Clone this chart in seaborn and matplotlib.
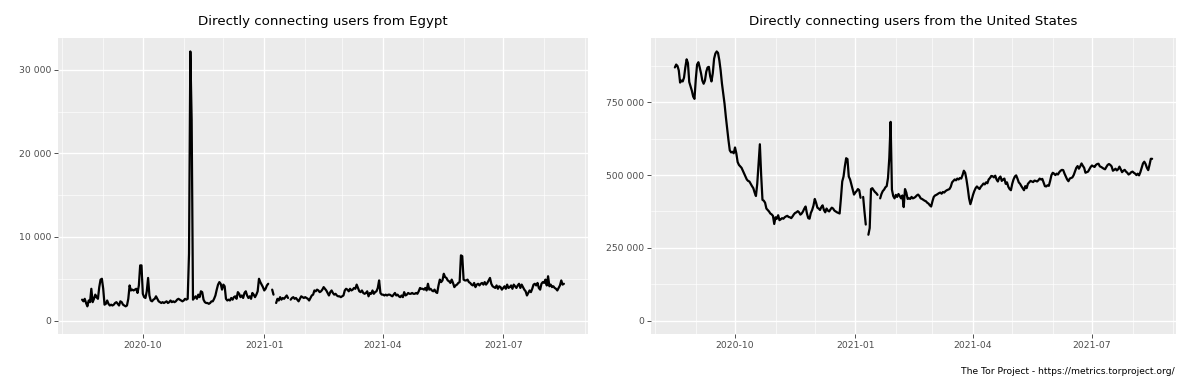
import numpy as np
import pandas as pd
import matplotlib
matplotlib.use("Agg")
import matplotlib.pyplot as plt
import matplotlib.dates as mdates
from matplotlib.ticker import FuncFormatter, MultipleLocator
import seaborn as sns

nan = np.nan

# daily values, 2020-08-16 .. 2021-08-16 (nan = no data that day)
start_date = "2020-08-16"

egypt_users = [
    # Aug
    2500, 2300, 2600, 2100, 1700, 2400, 2200, 3800, 2200, 2600, 3100, 2800, 2600, 4000, 4900, 5000,
    # Sep
    3800, 1900, 2000, 2400, 2000, 1800, 1900, 1800, 1900, 2100,
    2200, 2000, 1800, 2300, 2200, 1900, 1800, 1700, 1800, 2600,
    4200, 3600, 3700, 3600, 3700, 3800, 3300, 4200, 6600, 6600,
    # Oct
    3200, 2800, 2700, 3500, 5100, 3000, 2400, 2300, 2500, 2600,
    2900, 2600, 2300, 2200, 2100, 2200, 2100, 2200, 2300, 2100,
    2200, 2400, 2200, 2300, 2200, 2300, 2500, 2600, 2500, 2400,
    2300,
    # Nov
    2400, 2600, 2500, 2600, 8000, 32200, 24000, 2500, 2700, 2900,
    2600, 3100, 2800, 3500, 3400, 2500, 2200, 2100, 2100, 2000,
    2100, 2300, 2300, 2600, 3000, 3700, 4300, 4600, 4400, 3700,
    # Dec
    4300, 4100, 2600, 2400, 2500, 2400, 2700, 2500, 2800, 2900,
    2600, 3400, 3200, 2800, 3000, 2700, 3300, 3500, 3000, 2700,
    2900, 2600, 3300, 3100, 2800, 3100, 3500, 5000, 4600, 4300,
    4000,
    # Jan
    3600, 3800, 4200, 4400, nan, nan, 3700, 3100, nan, 2100,
    2600, 2400, 2800, 2500, 2700, 2600, 2800, 3000, 2700, nan,
    2500, 2700, 2800, 2600, 2700, 2500, 2300, 2600, 2900, 2800,
    2700,
    # Feb
    2800, 2700, 2600, 2400, 2700, 3000, 3100, 3600, 3500, 3700,
    3600, 3400, 3500, 3700, 4000, 3800, 3600, 3300, 3000, 3400,
    3600, 3300, 3100, 3200, 3000, 2900, 2900, 2800,
    # Mar
    2900, 3000, 3600, 3800, 3700, 3500, 3800, 3600, 3700, 3900,
    3800, 4300, 3900, 3500, 3400, 3600, 3300, 3200, 3300, 3500,
    2900, 3300, 3200, 3600, 3200, 3400, 3500, 3900, 4800, 3300,
    3100,
    # Apr
    3100, 3000, 3100, 3000, 3100, 3100, 3000, 2900, 3100, 3300,
    3000, 3100, 2900, 2800, 3000, 2800, 3400, 3000, 3100, 3300,
    3200, 3200, 3300, 3200, 3200, 3300, 3200, 3500, 3900, 3800,
    # May
    3800, 3700, 3900, 3600, 4400, 3700, 3800, 3600, 3500, 3700,
    3400, 3300, 4200, 4900, 4600, 4800, 5600, 5200, 5100, 4800,
    4700, 4500, 4900, 4500, 4000, 4200, 4300, 4500, 4600, 7800,
    7700,
    # Jun
    4900, 4800, 4800, 4900, 4600, 4500, 4300, 4200, 4500, 4000,
    4300, 4400, 4200, 4400, 4500, 4300, 4600, 4300, 4500, 4800,
    5100, 4400, 4100, 4000, 3900, 4200, 3800, 4100, 4000, 3700,
    # Jul
    3900, 4100, 3800, 4300, 3900, 4000, 4200, 3800, 4300, 4100,
    3900, 4200, 4400, 3900, 4300, 4000, 3700, 3500, 3000, 3300,
    3600, 3400, 3800, 4300, 4400, 4200, 4500, 3900, 3700, 4400,
    4600,
    # Aug
    4500, 4900, 4200, 5300, 4100, 4300, 4000, 4100, 3900, 3800, 3600, 3900, 4200, 4800, 4300, 4400,
]

# United States, in thousands of users
us_users_k = [
    # Aug
    870, 880, 875, 860, 818, 825, 822, 835, 870, 898, 885, 820, 805, 790, 770, 762,
    # Sep
    830, 880, 888, 870, 850, 825, 814, 825, 855, 870,
    872, 840, 822, 850, 900, 918, 925, 920, 895, 860,
    815, 780, 745, 700, 660, 620, 585, 578, 580, 575,
    # Oct
    595, 575, 545, 535, 530, 525, 515, 505, 495, 485,
    480, 478, 470, 462, 455, 440, 428, 470, 540, 606,
    500, 415, 412, 405, 385, 380, 375, 368, 365, 360,
    332,
    # Nov
    355, 350, 362, 345, 348, 352, 350, 355, 358, 360,
    356, 355, 352, 358, 365, 370, 372, 376, 372, 364,
    368, 375, 385, 392, 368, 352, 350, 370, 380, 395,
    # Dec
    418, 405, 388, 385, 380, 390, 396, 380, 372, 385,
    378, 375, 382, 388, 385, 378, 375, 372, 370, 368,
    420, 478, 495, 530, 558, 555, 495, 485, 468, 450,
    433,
    # Jan
    440, 445, 452, 448, 422, nan, 425, 375, 330, nan,
    295, 318, 452, 455, 448, 442, 438, 432, nan, 420,
    435, 445, 450, 458, 462, 490, 560, 683, 450, 428,
    420,
    # Feb
    432, 425, 435, 428, 420, 430, 390, 452, 440, 418,
    420, 418, 425, 420, 422, 425, 430, 433, 428, 420,
    418, 415, 412, 410, 405, 402, 396, 392,
    # Mar
    410, 425, 430, 432, 435, 438, 440, 436, 442, 440,
    445, 448, 450, 452, 460, 475, 480, 485, 482, 488,
    485, 490, 488, 500, 515, 508, 485, 455, 420, 400,
    415,
    # Apr
    432, 445, 455, 461, 456, 452, 460, 465, 471, 468,
    475, 472, 485, 490, 497, 496, 492, 498, 485, 478,
    490, 495, 480, 485, 488, 470, 475, 460, 452, 448,
    # May
    470, 485, 495, 499, 488, 475, 470, 462, 455, 448,
    462, 455, 470, 475, 480, 478, 476, 481, 480, 478,
    482, 488, 485, 487, 475, 462, 461, 465, 463, 480,
    500,
    # Jun
    508, 505, 500, 505, 502, 510, 515, 518, 517, 505,
    495, 485, 479, 488, 490, 492, 500, 512, 525, 531,
    522, 530, 540, 532, 525, 508, 510, 512, 520, 528,
    # Jul
    533, 530, 528, 535, 538, 539, 530, 528, 525, 522,
    520, 528, 535, 538, 535, 530, 515, 518, 522, 516,
    520, 529, 520, 510, 515, 518, 512, 508, 502, 505,
    510,
    # Aug
    512, 508, 505, 500, 505, 499, 510, 525, 540, 546, 538, 525, 517, 535, 556, 556,
]

titles = ["Directly connecting users from Egypt",
          "Directly connecting users from the United States"]
caption = "The Tor Project - https://metrics.torproject.org/"

sns.set_theme(style="darkgrid", rc={
    "axes.facecolor": "#EBEBEB",
    "grid.color": "white",
    "axes.edgecolor": "#EBEBEB",
})
plt.rcParams['font.family'] = ['DejaVu Sans']


def to_frame(values, scale=1):
    df = pd.DataFrame({
        'date': pd.date_range(start_date, periods=len(values), freq='D'),
        'users': np.array(values, dtype=float) * scale,
    })
    # break the line where a day is missing
    df['seg'] = df['users'].isna().cumsum()
    return df.dropna()


def space_thousands(v, pos):
    return f"{v:,.0f}".replace(",", " ")


fig = plt.figure(figsize=(11.83, 3.79), dpi=100)
ax1 = fig.add_axes([58 / 1183, 45 / 379, 530 / 1183, 296 / 379])
ax2 = fig.add_axes([651 / 1183, 45 / 379, 525 / 1183, 296 / 379])

frames = [to_frame(egypt_users), to_frame(us_users_k, 1000)]
ysteps = [(10000, 5000), (250000, 125000)]

for ax, df, title, (maj, mnr) in zip([ax1, ax2], frames, titles, ysteps):
    sns.lineplot(data=df, x='date', y='users', units='seg', estimator=None,
                 color='black', lw=1.6, ax=ax)
    x0, x1 = df['date'].min(), df['date'].max()
    pad = (x1 - x0) * 0.05
    ax.set_xlim(x0 - pad, x1 + pad)
    hi = df['users'].max()
    ax.set_ylim(-0.05 * hi, 1.05 * hi)

    ax.xaxis.set_major_locator(mdates.MonthLocator(bymonth=[1, 4, 7, 10]))
    ax.xaxis.set_major_formatter(mdates.DateFormatter('%Y-%m'))
    ax.xaxis.set_minor_locator(mdates.MonthLocator())
    ax.yaxis.set_major_locator(MultipleLocator(maj))
    ax.yaxis.set_minor_locator(MultipleLocator(mnr))
    ax.yaxis.set_major_formatter(FuncFormatter(space_thousands))

    ax.grid(which='major', color='white', lw=1.0)
    ax.grid(which='minor', color='white', lw=0.45)
    ax.tick_params(which='major', bottom=True, left=True, length=2.7, width=0.6,
                   color='#333333', labelcolor='#4D4D4D', labelsize=6.7, pad=2)
    ax.tick_params(which='minor', length=0)
    for s in ax.spines.values():
        s.set_visible(False)
    ax.set_xlabel('')
    ax.set_ylabel('')
    ax.set_title(title, fontsize=9.6, color='black', pad=9)

fig.text(1175 / 1183, 8 / 379, caption, ha='right', va='center',
         fontsize=6.6, color='black')

fig.savefig('out.png', dpi=100)
